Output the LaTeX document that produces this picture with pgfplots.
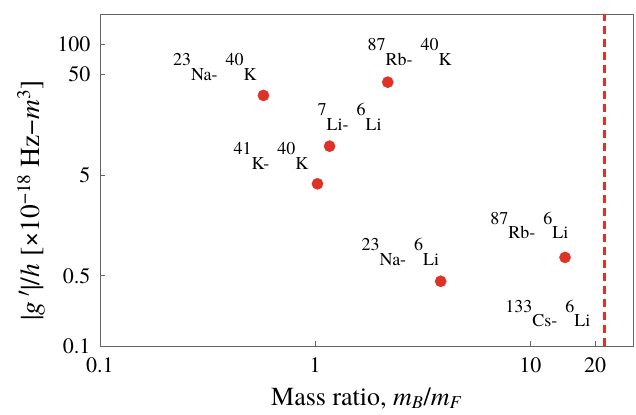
\documentclass[border=0pt]{standalone}
\usepackage{pgfplots}
\pgfplotsset{compat=1.18}
\usetikzlibrary{calc}
\usepackage{fontspec}
\setmainfont{TeX Gyre Termes}
\definecolor{ptred}{RGB}{222,50,38}
\definecolor{framegray}{RGB}{100,100,100}
\newcommand{\iso}[2]{\raisebox{0.8em}{#1}#2}
\newcommand{\lblfont}{\fontsize{18}{18}\selectfont}
\begin{document}
\begin{tikzpicture}
\begin{axis}[
  scale only axis, width=533pt, height=332pt,
  xmode=log, ymode=log, xmin=0.1, xmax=30, ymin=0.1, ymax=200,
  xtick={0.1,1,10,20}, xticklabels={0.1,1,10,20},
  ytick={0.1,0.5,5,50,100}, yticklabels={0.1,0.5,5,50,100},
  minor xtick={}, minor ytick={},
  tick align=inside, xtick pos=bottom, ytick pos=left,
  major tick length=5pt,
  axis line style={framegray, line width=0.8pt},
  every tick/.style={framegray, line width=0.8pt},
  ticklabel style={font=\fontsize{22}{22}\selectfont},
  xticklabel style={yshift=-8pt},
  yticklabel style={xshift=-6pt},
  xlabel={Mass ratio, \textit{m}\textsubscript{\textit{B}}/\textit{m}\textsubscript{\textit{F}}},
  ylabel={|\textit{g}\,$'$|/\textit{h} [×10\textsuperscript{−18} Hz−\textit{m}\textsuperscript{3}]},
  every axis x label/.style={at={(axis description cs:0.5,-0.178)}, anchor=base, font=\fontsize{26}{26}\selectfont},
  every axis y label/.style={at={(axis description cs:-0.1295,0.438)}, anchor=center, rotate=90, font=\fontsize{27.5}{27.5}\selectfont},
]
\addplot[only marks, mark=*, mark size=5.6pt, color=ptred, mark options={draw=none, fill=ptred}]
  coordinates {(0.575,31) (2.175,42) (1.167,9.7) (1.025,4.1) (3.833,0.44) (14.5,0.76)};
\addplot[ptred, line width=3pt, dash pattern=on 8pt off 5pt] coordinates {(22.17,0.1) (22.17,200)};
\node[anchor=base west, font=\lblfont, inner sep=0pt] at (axis cs:0.218,43.9) {\iso{23}{Na-}\hspace{8pt}\iso{40}{K}};
\node[anchor=base west, font=\lblfont, inner sep=0pt] at (axis cs:1.751,61.8) {\iso{87}{Rb-}\hspace{8pt}\iso{40}{K}};
\node[anchor=base west, font=\lblfont, inner sep=0pt] at (axis cs:1.024,13.97) {\iso{7}{Li-}\hspace{8pt}\iso{6}{Li}};
\node[anchor=base west, font=\lblfont, inner sep=0pt] at (axis cs:0.417,5.72) {\iso{41}{K-}\hspace{8pt}\iso{40}{K}};
\node[anchor=base west, font=\lblfont, inner sep=0pt] at (axis cs:1.642,0.636) {\iso{23}{Na-}\hspace{8pt}\iso{6}{Li}};
\node[anchor=base west, font=\lblfont, inner sep=0pt] at (axis cs:6.51,1.171) {\iso{87}{Rb-}\hspace{8pt}\iso{6}{Li}};
\node[anchor=base west, font=\lblfont, inner sep=0pt] at (axis cs:7.64,0.155) {\iso{133}{Cs-}\hspace{8pt}\iso{6}{Li}};
\end{axis}
\pgfresetboundingbox
\path ($(current axis.south west)+(-100pt,-69pt)$) rectangle ($(current axis.north east)+(3pt,14pt)$);
\end{tikzpicture}
\end{document}
